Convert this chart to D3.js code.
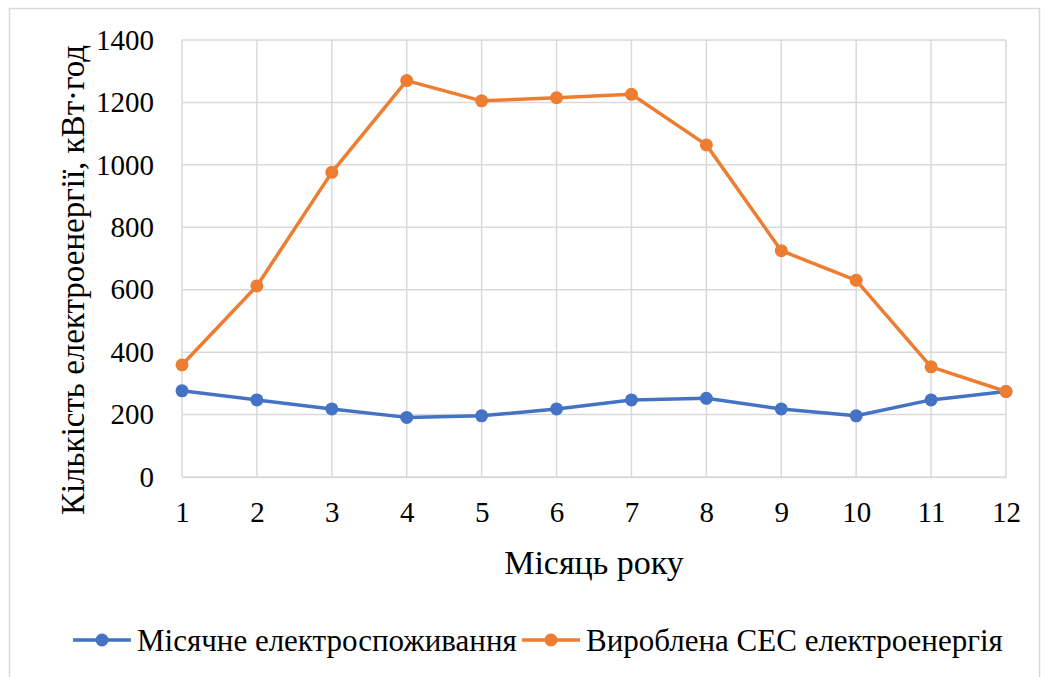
<!DOCTYPE html>
<html>
<head>
<meta charset="utf-8">
<script src="https://cdn.jsdelivr.net/npm/d3@7"></script>
<style>
  body { margin: 0; background: #fff; }
</style>
</head>
<body>
<svg id="chart" width="1048" height="677"></svg>
<script>
// months on the x axis
var months = [1, 2, 3, 4, 5, 6, 7, 8, 9, 10, 11, 12];
// monthly consumption, kWh
var consumption = [276, 247, 218, 191, 196, 218, 247, 252, 218, 196, 247, 274];
// energy produced by the solar plant, kWh
var production = [359, 612, 976, 1270, 1205, 1215, 1226, 1064, 725, 630, 353, 274];
var yTicks = [0, 200, 400, 600, 800, 1000, 1200, 1400];
var seriesNames = ["Місячне електроспоживання", "Вироблена СЕС електроенергія"];
var seriesColors = ["#4472C4", "#ED7D31"];

var serif = "'Liberation Serif', 'Times New Roman', 'DejaVu Serif', serif";

var svg = d3.select("#chart");

// outer chart border
svg.append("rect")
    .attr("x", 9.5).attr("y", 8.5)
    .attr("width", 1030).attr("height", 700)
    .attr("fill", "none")
    .attr("stroke", "#d9d9d9")
    .attr("stroke-width", 1.5);

var margin = {left: 182, right: 1006, top: 40, bottom: 477};

var x = d3.scaleLinear()
    .domain([1, 12])
    .range([margin.left, margin.right]);

var y = d3.scaleLinear()
    .domain([0, 1400])
    .range([margin.bottom, margin.top]);

var g = svg.append("g");

// horizontal gridlines
g.selectAll(".hgrid")
    .data(yTicks)
    .enter().append("line")
    .attr("x1", margin.left).attr("x2", margin.right)
    .attr("y1", function(d) { return y(d); })
    .attr("y2", function(d) { return y(d); })
    .attr("stroke", "#d9d9d9")
    .attr("stroke-width", 1.5);

// vertical gridlines
g.selectAll(".vgrid")
    .data(months)
    .enter().append("line")
    .attr("x1", function(d) { return x(d); })
    .attr("x2", function(d) { return x(d); })
    .attr("y1", margin.top).attr("y2", margin.bottom)
    .attr("stroke", "#d9d9d9")
    .attr("stroke-width", 1.5);

// y axis tick labels
var yAxis = g.append("g")
    .attr("transform", "translate(" + margin.left + ",0)")
    .call(d3.axisLeft(y).tickValues(yTicks).tickFormat(d3.format("d")).tickSize(0).tickPadding(28));
yAxis.select(".domain").remove();
yAxis.attr("font-family", null).attr("font-size", null);
yAxis.selectAll("text")
    .style("font-family", serif)
    .style("font-size", "29px")
    .attr("fill", "#000");

// x axis tick labels
var xAxis = g.append("g")
    .attr("transform", "translate(0," + margin.bottom + ")")
    .call(d3.axisBottom(x).tickValues(months).tickFormat(d3.format("d")).tickSize(0).tickPadding(24));
xAxis.attr("font-family", null).attr("font-size", null);
xAxis.select(".domain")
    .attr("stroke", "#d9d9d9")
    .attr("stroke-width", 1.5);
xAxis.selectAll("text")
    .style("font-family", serif)
    .style("font-size", "29px")
    .attr("fill", "#000");

// axis titles
svg.append("text")
    .attr("x", (margin.left + margin.right) / 2)
    .attr("y", 574)
    .attr("text-anchor", "middle")
    .style("font-family", serif)
    .style("font-size", "34px")
    .text("Місяць року");

svg.append("text")
    .attr("transform", "translate(84,280) rotate(-90)")
    .attr("text-anchor", "middle")
    .style("font-family", serif)
    .style("font-size", "33px")
    .text("Кількість електроенергії, кВт·год");

var line = d3.line()
    .x(function(d, i) { return x(months[i]); })
    .y(function(d) { return y(d); });

[consumption, production].forEach(function(series, k) {
    g.append("path")
        .datum(series)
        .attr("fill", "none")
        .attr("stroke", seriesColors[k])
        .attr("stroke-width", 3.5)
        .attr("stroke-linejoin", "round")
        .attr("d", line);

    g.selectAll(".dot" + k)
        .data(series)
        .enter().append("circle")
        .attr("r", 6.5)
        .attr("fill", seriesColors[k])
        .attr("cx", function(d, i) { return x(months[i]); })
        .attr("cy", function(d) { return y(d); });
});

// legend
var legendX = [73, 522];
var legend = svg.selectAll(".legend")
    .data(seriesNames)
    .enter().append("g")
    .attr("transform", function(d, i) { return "translate(" + legendX[i] + ",640)"; });

legend.append("line")
    .attr("x1", 0).attr("x2", 58)
    .attr("stroke", function(d, i) { return seriesColors[i]; })
    .attr("stroke-width", 3.5);
legend.append("circle")
    .attr("cx", 29).attr("r", 6.5)
    .attr("fill", function(d, i) { return seriesColors[i]; });
legend.append("text")
    .attr("x", 64)
    .attr("dy", "0.35em")
    .style("font-family", serif)
    .style("font-size", "31px")
    .text(function(d) { return d; });
</script>
</body>
</html>
